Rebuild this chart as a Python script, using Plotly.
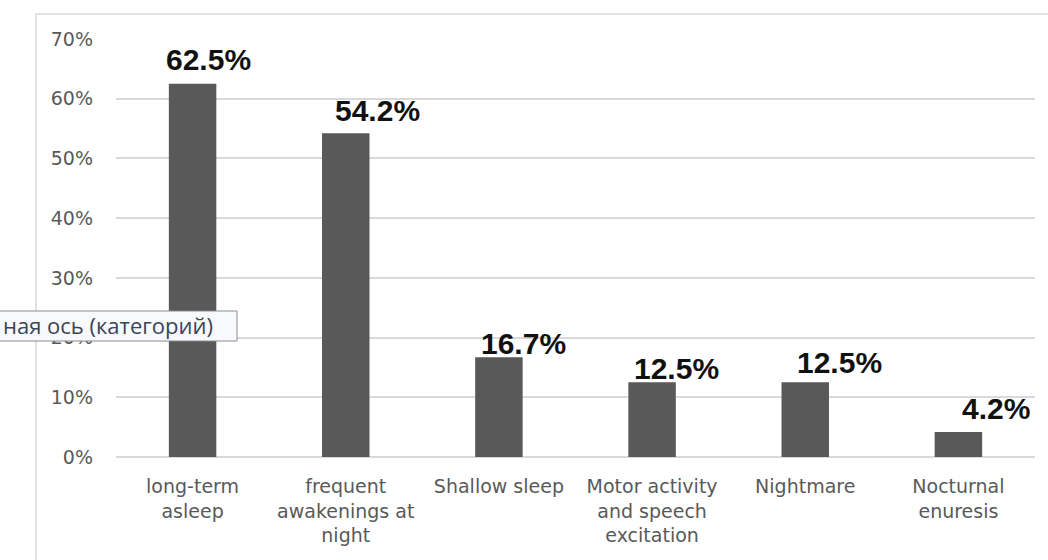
import plotly.graph_objects as go

# Sleep disorder categories and their share (%)
categories = [
    "long-term<br>asleep",
    "frequent<br>awakenings at<br>night",
    "Shallow sleep",
    "Motor activity<br>and speech<br>excitation",
    "Nightmare",
    "Nocturnal<br>enuresis",
]
values = [62.5, 54.2, 16.7, 12.5, 12.5, 4.2]
y_ticks = [0, 10, 20, 30, 40, 50, 60, 70]
y_tick_labels = [f"{t}%" for t in y_ticks]

# hand-placed data label offsets (px) relative to the bar top centre
label_dx = [16, 32, 25, 24, 34, 38]
label_dy = [24, 23, 14, 14, 20, 23]

W, H = 1048, 560
ML, MR, MT, MB = 116, 13, 39, 103
pw = W - ML - MR
ph = H - MT - MB


def px_x(px):
    return (px - ML) / pw


def px_y(py):
    return (H - MB - py) / ph


fig = go.Figure(
    go.Bar(
        x=categories,
        y=values,
        marker=dict(color="#595959", line=dict(width=0)),
        width=0.31,
        hoverinfo="skip",
    )
)

for cat, v, dx, dy in zip(categories, values, label_dx, label_dy):
    fig.add_annotation(
        x=cat, y=v, text=f"{v:.1f}%", showarrow=False,
        xanchor="center", yanchor="middle", xshift=dx, yshift=dy,
        font=dict(family="Liberation Sans, Arial, sans-serif", size=30,
                  color="#111111", weight="bold"),
    )

# chart-area frame
fig.add_shape(
    type="rect", xref="paper", yref="paper",
    x0=px_x(36), x1=1.2, y0=-0.5, y1=px_y(14),
    line=dict(color="#d9d9d9", width=1.5), fillcolor="rgba(0,0,0,0)",
    layer="below",
)

# axis tooltip box
fig.add_shape(
    type="rect", xref="paper", yref="paper",
    x0=px_x(-20), x1=px_x(237), y0=px_y(341), y1=px_y(311),
    line=dict(color="#8c8c8c", width=1), fillcolor="#f7f9fc",
    layer="above",
)
fig.add_annotation(
    xref="paper", yref="paper",
    x=px_x(215), y=px_y(325),
    xanchor="right", yanchor="middle",
    text="ная ось (категорий)", showarrow=False,
    font=dict(family="Open Sans, sans-serif", size=22, color="#3a4556"),
)

tick_font = dict(family="DejaVu Sans, sans-serif", size=19, color="#595959")

fig.update_layout(
    width=W, height=H,
    margin=dict(l=ML, r=MR, t=MT, b=MB),
    paper_bgcolor="white", plot_bgcolor="white",
    showlegend=False,
    xaxis=dict(
        showgrid=False, zeroline=False, showline=False, ticks="",
        tickfont=tick_font,
        ticklabelstandoff=16,
    ),
    yaxis=dict(
        range=[0, 70], tickmode="array", tickvals=y_ticks, ticktext=y_tick_labels,
        showgrid=True, gridcolor="#d9d9d9", gridwidth=1.5,
        zeroline=True, zerolinecolor="#d9d9d9", zerolinewidth=1.5,
        showline=False, ticks="",
        tickfont=tick_font,
        ticklabelstandoff=22,
    ),
)

fig.write_html("out.html")
